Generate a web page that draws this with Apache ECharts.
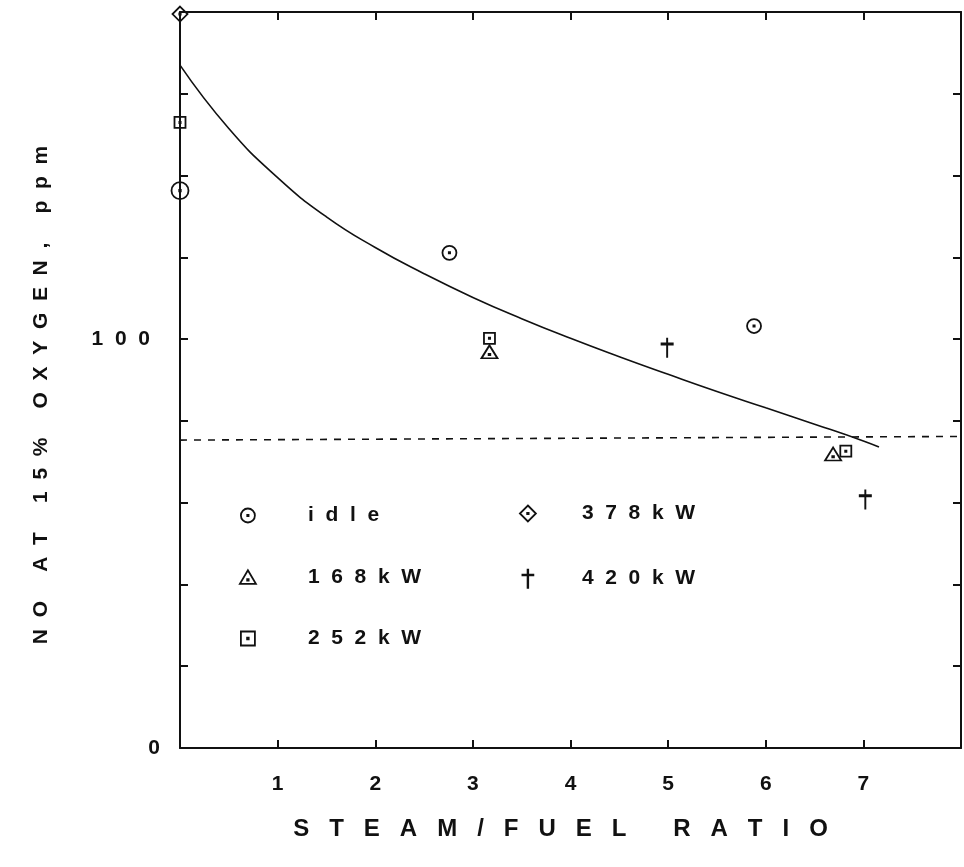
<!DOCTYPE html>
<html><head><meta charset="utf-8">
<script src="https://cdn.jsdelivr.net/npm/echarts@6/dist/echarts.min.js"></script>
<style>html,body{margin:0;padding:0;background:#fff}#c{width:964px;height:867px}</style>
</head><body><div id="c"></div>
<script>
// ---- data ----
const xTickLabels = ['1', '2', '3', '4', '5', '6', '7'];
const yTickLabels = ['0', '100'];
const xTitleWords = ['STEAM/FUEL', 'RATIO'];
const yTitleWords = ['NO', 'AT', '15%', 'OXYGEN,', 'ppm'];
const seriesNames = ['idle', '168kW', '252kW', '378kW', '420kW'];

const idleX = [0, 2.76, 5.88];
const idleY = [136.3, 121.1, 103.2];
const kw168X = [3.17, 6.69];
const kw168Y = [96.9, 71.9];
const kw252X = [0, 3.17, 6.82];
const kw252Y = [153.0, 100.2, 72.6];
const kw378X = [0];
const kw378Y = [179.5];
const kw420X = [4.99, 7.02];
const kw420Y = [97.9, 60.8];

const fitX = [0, 0.5, 1.0, 1.5, 2.0, 2.5, 3.0, 3.5, 4.0, 4.5, 5.0, 5.5, 6.0, 6.5, 7.0, 7.16];
const fitY = [167.0, 151.5, 139.5, 129.9, 122.4, 116.0, 110.2, 105.0, 100.2, 95.7, 91.4, 87.2, 83.2, 79.2, 75.1, 73.6];
const limitX = [0, 8];
const limitY = [75.3, 76.2];

// ---- helpers ----
const sp = (s, n) => s.split('').join(' '.repeat(n));
const zip = (xs, ys) => xs.map((x, i) => [x, ys[i]]);
const FONT = '"Liberation Sans", Arial, sans-serif';

const dot = ' M-0.9,-0.9 L0.9,-0.9 L0.9,0.9 L-0.9,0.9 Z';
const SYM = {
  circle: 'path://M0,-10 A10,10 0 1 1 0,10 A10,10 0 1 1 0,-10 Z' + dot,
  triangle: 'path://M0,-9 L10,8 L-10,8 Z M-0.9,2.2 L0.9,2.2 L0.9,4 L-0.9,4 Z',
  square: 'path://M-8,-8 L8,-8 L8,8 L-8,8 Z' + dot,
  diamond: 'path://M0,-10 L10,0 L0,10 L-10,0 Z' + dot,
  dagger: 'path://M0,-10 L0,12 M-7,-3 L7,-3'
};

function scatter(name, xs, ys, symbol, size, bw) {
  return {
    name, type: 'scatter', data: zip(xs, ys), symbol, symbolSize: size,
    clip: false, silent: true, z: 5,
    itemStyle: { color: 'transparent', borderColor: '#111', borderWidth: bw, opacity: 1 }
  };
}

const chart = echarts.init(document.getElementById('c'), null, { renderer: 'canvas' });
const axisCommon = {
  type: 'value', min: 0,
  axisLine: { show: true, onZero: false, lineStyle: { color: '#111', width: 2 } },
  axisTick: { show: true, inside: true, length: 8, lineStyle: { color: '#111', width: 2 } },
  splitLine: { show: false }
};
const labelFont = { color: '#111', fontFamily: FONT, fontWeight: 'bold', fontSize: 21 };

chart.setOption({
  animation: false,
  backgroundColor: '#fff',
  grid: { left: 180, right: 2, top: 12, bottom: 119, containLabel: false },
  xAxis: [
    Object.assign({}, axisCommon, {
      position: 'bottom', max: 8, interval: 1,
      axisLabel: Object.assign({}, labelFont, {
        margin: 26,
        formatter: v => xTickLabels.includes(String(v)) ? String(v) : ''
      }),
      name: xTitleWords.map(w => sp(w, 3)).join('       '),
      nameLocation: 'middle', nameGap: 69,
      nameTextStyle: Object.assign({}, labelFont, { fontSize: 24, padding: [0, 20, 0, 0] })
    }),
    Object.assign({}, axisCommon, {
      position: 'top', max: 8, interval: 1, axisLabel: { show: false }
    })
  ],
  yAxis: [
    Object.assign({}, axisCommon, {
      position: 'left', max: 180, interval: 20,
      axisLabel: Object.assign({}, labelFont, {
        margin: 20,
        formatter: v => yTickLabels.includes(String(v)) ? (v === 100 ? '{a|' + sp(String(v), 2) + '}' : String(v)) : '',
        rich: { a: Object.assign({}, labelFont, { padding: [0, 10, 0, 0] }) }
      }),
      name: yTitleWords.map(w => sp(w, 2)).join('     '),
      nameLocation: 'middle', nameRotate: 90, nameGap: 128,
      nameTextStyle: Object.assign({}, labelFont, { fontSize: 21, padding: [0, 30, 0, 0] })
    }),
    Object.assign({}, axisCommon, {
      position: 'right', max: 180, interval: 20, axisLabel: { show: false }
    })
  ],
  legend: [
    {
      data: seriesNames.slice(0, 3), orient: 'vertical', left: 234, top: 500,
      itemWidth: 16, itemHeight: 14, itemGap: 40.5,
      formatter: n => sp(n, 2),
      itemStyle: { borderWidth: 'inherit' },
      textStyle: Object.assign({}, labelFont, { padding: [0, 0, 0, 47] }),
      selectedMode: false
    },
    {
      data: seriesNames.slice(3), orient: 'vertical', left: 514, top: 498,
      itemWidth: 16, itemHeight: 20, itemGap: 43.5,
      formatter: n => sp(n, 2),
      itemStyle: { borderWidth: 'inherit' },
      textStyle: Object.assign({}, labelFont, { padding: [0, 0, 0, 41] }),
      selectedMode: false
    }
  ],
  series: [
    {
      name: 'fit', type: 'line', data: zip(fitX, fitY), smooth: 0.5,
      showSymbol: false, symbol: 'none', silent: true, z: 3,
      lineStyle: { color: '#111', width: 1.6 }
    },
    {
      name: 'limit', type: 'line', data: zip(limitX, limitY),
      showSymbol: false, symbol: 'none', silent: true, z: 3,
      lineStyle: { color: '#111', width: 1.6, type: [7, 7] }
    },
    scatter(seriesNames[0], idleX, idleY, SYM.circle, v => (v[0] === 0 ? 17 : 14), 1.8),
    scatter(seriesNames[1], kw168X, kw168Y, SYM.triangle, [16, 13], 1.8),
    scatter(seriesNames[2], kw252X, kw252Y, SYM.square, 11, 1.8),
    scatter(seriesNames[3], kw378X, kw378Y, SYM.diamond, 15, 1.8),
    scatter(seriesNames[4], kw420X, kw420Y, SYM.dagger, [13, 20], 2.4)
  ]
});
</script></body></html>
